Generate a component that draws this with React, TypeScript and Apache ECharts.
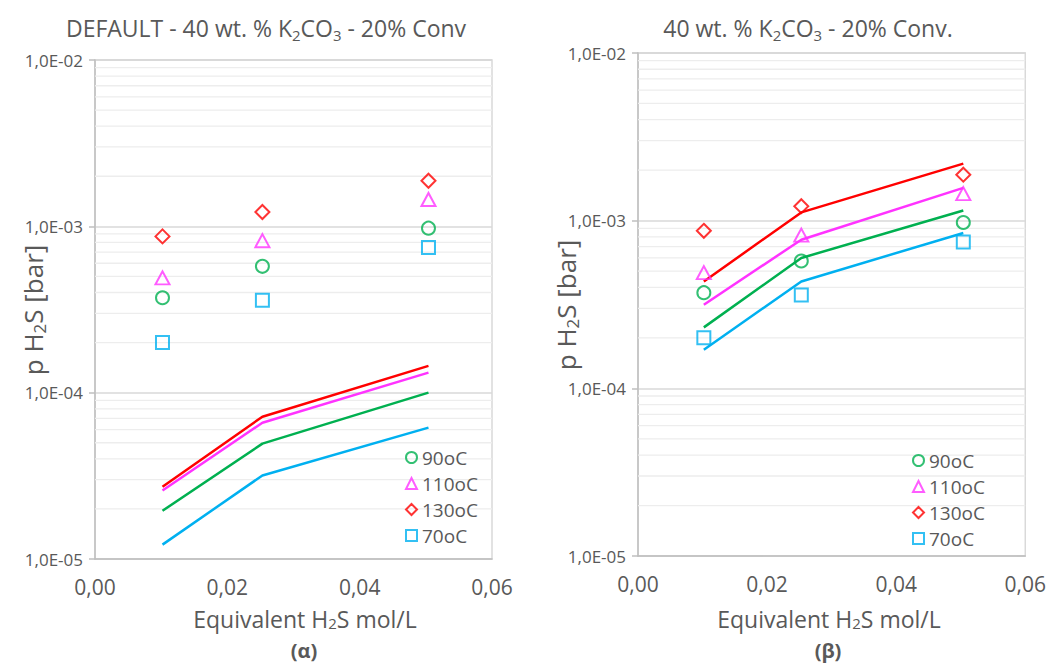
import React, { useEffect, useRef } from "react";
import * as echarts from "echarts";

// x positions (Equivalent H2S mol/L)
const xVals = [0.0102, 0.0253, 0.0504];

// experimental points (same in both panels)
const names = ["90oC", "110oC", "130oC", "70oC"];
const exp90 = [3.72e-4, 5.75e-4, 9.75e-4];
const exp110 = [4.9e-4, 8.2e-4, 1.45e-3];
const exp130 = [8.7e-4, 1.22e-3, 1.88e-3];
const exp70 = [2.0e-4, 3.6e-4, 7.45e-4];

// model lines, panel (α)
const modelA90 = [1.95e-5, 4.94e-5, 1.0e-4];
const modelA110 = [2.58e-5, 6.6e-5, 1.32e-4];
const modelA130 = [2.72e-5, 7.17e-5, 1.45e-4];
const modelA70 = [1.22e-5, 3.18e-5, 6.16e-5];

// model lines, panel (β)
const modelB90 = [2.31e-4, 5.99e-4, 1.15e-3];
const modelB110 = [3.15e-4, 7.7e-4, 1.57e-3];
const modelB130 = [4.34e-4, 1.12e-3, 2.19e-3];
const modelB70 = [1.7e-4, 4.34e-4, 8.45e-4];

const xTicks = [0, 0.02, 0.04, 0.06];
const yDecades = [1e-5, 1e-4, 1e-3, 1e-2];
const minorMult = [2, 3, 4, 5, 6, 7, 8, 9];

const colors = ["#00b050", "#ff33ff", "#ff0000", "#00b0f0"];
const symbols = ["circle", "triangle", "diamond", "rect"];
const symSizes: any[] = [13, [14, 13], [14, 14], 13];

const FONT = "Open Sans";
const TXT = "#595959";

export default function App() {
  const ref = useRef<HTMLDivElement>(null);
  useEffect(() => {
    const chart = echarts.init(ref.current!, null, { renderer: "svg" });
    const expData = [exp90, exp110, exp130, exp70];
    const modelA = [modelA90, modelA110, modelA130, modelA70];
    const modelB = [modelB90, modelB110, modelB130, modelB70];

    const minorVals: number[] = [];
    yDecades.slice(0, 3).forEach((d) => minorMult.forEach((m) => minorVals.push(m * d)));

    const fmtY = (v: number) => {
      const e = Math.round(Math.log10(v));
      return "1,0E-" + String(-e).padStart(2, "0");
    };
    const fmtX = (v: number) => v.toFixed(2).replace(".", ",");

    const grids = [
      { left: 95, top: 60, width: 397, height: 499 },
      { left: 638, top: 53, width: 389, height: 503 },
    ];

    const subRich = (size: number, lh: number) => ({
      a: { fontSize: size, fontFamily: FONT, fill: TXT, lineHeight: lh, verticalAlign: "middle" },
      s: { fontSize: Math.round(size * 0.65), fontFamily: FONT, fill: TXT, verticalAlign: "bottom", lineHeight: lh },
    });

    const xAxes = grids.map((_, i) => ({
      type: "value",
      gridIndex: i,
      min: xTicks[0],
      max: xTicks[xTicks.length - 1],
      interval: 0.02,
      axisLine: { show: true, lineStyle: { color: "#bfbfbf", width: 1.5 } },
      axisTick: { show: false },
      splitLine: { show: false },
      axisLabel: { formatter: fmtX, fontSize: 21, fontFamily: FONT, color: TXT, margin: 17 },
    }));

    const yAxes = grids.map((_, i) => ({
      type: "log",
      logBase: 10,
      gridIndex: i,
      min: yDecades[0],
      max: yDecades[yDecades.length - 1],
      axisLine: { show: true, lineStyle: { color: "#bfbfbf", width: 1.5 } },
      axisTick: { show: true, length: 6, lineStyle: { color: "#bfbfbf", width: 1.5 } },
      splitLine: { show: true, lineStyle: { color: "#d9d9d9", width: 1.5 } },
      axisLabel: { formatter: fmtY, fontSize: 17, fontFamily: FONT, color: TXT, margin: 12 },
    }));

    const series: any[] = [];
    grids.forEach((_, gi) => {
      minorVals.forEach((v) => {
        series.push({
          type: "line",
          name: "minor-" + gi + "-" + v,
          xAxisIndex: gi,
          yAxisIndex: gi,
          data: [
            [xTicks[0], v],
            [xTicks[xTicks.length - 1], v],
          ],
          symbol: "none",
          showSymbol: false,
          silent: true,
          lineStyle: { color: "#ededed", width: 1.3 },
          z: 1,
        });
      });
      const models = gi === 0 ? modelA : modelB;
      models.forEach((m, k) => {
        series.push({
          type: "line",
          name: "model-" + gi + "-" + names[k],
          xAxisIndex: gi,
          yAxisIndex: gi,
          data: xVals.map((x, j) => [x, m[j]]),
          showSymbol: false,
          symbol: "none",
          lineStyle: { color: colors[k], width: 2.5 },
          itemStyle: { color: colors[k] },
          z: 3,
        });
      });
      expData.forEach((d, k) => {
        series.push({
          type: "scatter",
          name: names[k],
          xAxisIndex: gi,
          yAxisIndex: gi,
          data: xVals.map((x, j) => [x, d[j]]),
          symbol: symbols[k],
          symbolSize: symSizes[k],
          itemStyle: { color: "rgba(255,255,255,0)", borderColor: colors[k], borderWidth: 2 },
          z: 4,
        });
      });
    });

    const legendBase = {
      orient: "vertical",
      data: names,
      itemWidth: 11,
      itemHeight: 11,
      itemGap: 7,
      selectedMode: false,
      textStyle: { fontSize: 19, fontFamily: FONT, color: TXT, lineHeight: 19 },
    };

    const txt = (x: number, y: number, text: string, size: number, lh: number, rotation = 0) => ({
      type: "text",
      x,
      y,
      rotation,
      silent: true,
      style: { text, rich: subRich(size, lh), align: "center", verticalAlign: "middle" },
    });

    const bold = (x: number, y: number, text: string) => ({
      type: "text",
      x,
      y,
      silent: true,
      style: { text, fontSize: 20, lineHeight: 20, fontWeight: "bold", fontFamily: FONT, fill: TXT, align: "center", verticalAlign: "middle" },
    });

    chart.setOption({
      animation: false,
      backgroundColor: "#ffffff",
      grid: grids.map((g) => ({ ...g, show: true, borderColor: "#d9d9d9", borderWidth: 1.5, backgroundColor: "transparent" })),
      xAxis: xAxes,
      yAxis: yAxes,
      legend: [
        { ...legendBase, left: 400, top: 443 },
        { ...legendBase, left: 907, top: 446 },
      ],
      series,
      graphic: [
        txt(266, 28, "{a|DEFAULT - 40 wt. % K}{s|2}{a|CO}{s|3}{a| - 20% Conv}", 23, 28),
        txt(808, 28, "{a|40 wt. % K}{s|2}{a|CO}{s|3}{a| - 20% Conv.}", 23, 28),
        txt(305, 619, "{a|Equivalent H}{s|2}{a|S mol/L}", 23, 22),
        txt(829, 619, "{a|Equivalent H}{s|2}{a|S mol/L}", 23, 22),
        txt(33, 310, "{a|p H}{s|2}{a|S [bar]}", 26, 30, Math.PI / 2),
        txt(566, 305, "{a|p H}{s|2}{a|S [bar]}", 26, 30, Math.PI / 2),
        bold(304, 650, "(α)"),
        bold(828, 650, "(β)"),
      ],
    });
    return () => chart.dispose();
  }, []);
  return <div ref={ref} style={{ position: "fixed", left: 0, top: 0, width: 1049, height: 664, background: "#fff" }} />;
}
